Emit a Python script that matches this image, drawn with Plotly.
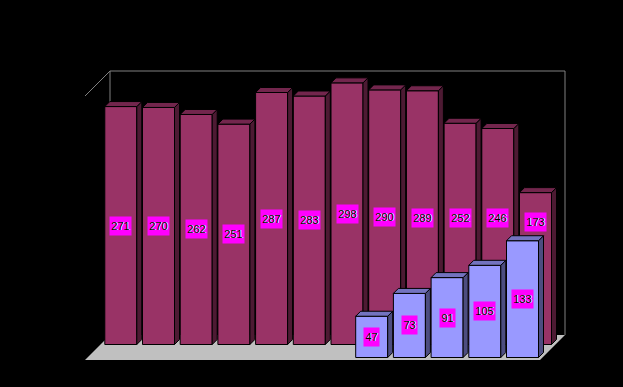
import plotly.graph_objects as go

back_categories = list(range(12))
back_values = [271, 270, 262, 251, 287, 283, 298, 290, 289, 252, 246, 173]
front_categories = [7, 8, 9, 10, 11]
front_values = [47, 73, 91, 105, 133]

W, H = 623, 387
PITCH = 37.7          # px per category
SCALE = 0.878         # px per value unit
X0_PX, Y0_PX = 120.8, 344.5
BAR_W = 32 / PITCH
DX, DY = 5 / PITCH, 5 / SCALE
FRONT_DX, FRONT_BASE = -13 / PITCH, -13 / SCALE

x_range = [-X0_PX / PITCH, (W - X0_PX) / PITCH]
y_range = [(Y0_PX - H) / SCALE, Y0_PX / SCALE]


def faces(xs, vals, base):
    side_x, side_y, top_x, top_y = [], [], [], []
    for x, v in zip(xs, vals):
        l, r, t = x - BAR_W / 2, x + BAR_W / 2, base + v
        side_x += [r, r + DX, r + DX, r, r, None]
        side_y += [base, base + DY, t + DY, t, base, None]
        top_x += [l, l + DX, r + DX, r, l, None]
        top_y += [t, t + DY, t + DY, t, t, None]
    return side_x, side_y, top_x, top_y


def add_series(fig, xs, vals, base, front, side, top, xa, ya):
    sx, sy, tx, ty = faces(xs, vals, base)
    fig.add_trace(go.Bar(x=xs, y=vals, base=[base] * len(vals), width=BAR_W,
                         marker=dict(color=front, line=dict(color="black", width=1)),
                         xaxis=xa, yaxis=ya, hoverinfo="skip"))
    for px, py, col in ((sx, sy, side), (tx, ty, top)):
        fig.add_trace(go.Scatter(x=px, y=py, mode="lines", fill="toself", fillcolor=col,
                                 line=dict(color="black", width=1),
                                 xaxis=xa, yaxis=ya, hoverinfo="skip"))


fig = go.Figure()
add_series(fig, back_categories, back_values, 0, "#993366", "#4D1A33", "#73264D", "x", "y")
front_x = [c + FRONT_DX for c in front_categories]
add_series(fig, front_x, front_values, FRONT_BASE, "#9999FF", "#4D4D80", "#7373BF", "x2", "y2")

# depth of the chart box, in category / value units
BOX_DX, BOX_DY = 25 / PITCH, 25 / SCALE
bl_x, br_x = (85 - X0_PX) / PITCH, (540 - X0_PX) / PITCH
fl_y = (Y0_PX - 360) / SCALE
top_y = (Y0_PX - 96) / SCALE
shapes = [
    dict(type="path", layer="below", line=dict(width=0), fillcolor="#C0C0C0",
         path=f"M{bl_x},{fl_y} L{br_x},{fl_y} L{br_x + BOX_DX},{fl_y + BOX_DY} L{bl_x + BOX_DX},{fl_y + BOX_DY} Z"),
    dict(type="path", layer="below", line=dict(width=1, color="#808080"),
         path=f"M{bl_x},{top_y} L{bl_x + BOX_DX},{top_y + BOX_DY} L{br_x + BOX_DX},{top_y + BOX_DY} "
              f"L{br_x + BOX_DX},{fl_y + BOX_DY} M{bl_x + BOX_DX},{top_y + BOX_DY} L{bl_x + BOX_DX},{fl_y + BOX_DY}"),
]
for s in shapes:
    s.update(xref="x", yref="y")

annotations = []
label_font = dict(family="Liberation Sans", size=11, color="black", shadow="1px 0px 0px #ffffff")


def label(x, y, text, xa, ya):
    annotations.append(dict(x=x, y=y, xref=xa, yref=ya, text=str(text), showarrow=False,
                            bgcolor="#FF00FF", borderpad=0, font=label_font,
                            width=21 if len(str(text)) > 2 else 15, height=18, align="center",
                            xanchor="center", yanchor="middle"))


# the three rightmost tall-bar labels sit higher than mid-height in the reference
raised_labels = {252: 144, 246: 144, 173: 140}
for c, v in zip(back_categories, back_values):
    label(c, raised_labels.get(v, v / 2), v, "x", "y")
for x, v in zip(front_x, front_values):
    label(x, FRONT_BASE + v / 2, v, "x2", "y2")

hidden = dict(visible=False, showgrid=False, zeroline=False)
fig.update_layout(
    width=W, height=H, margin=dict(l=0, r=0, t=0, b=0),
    paper_bgcolor="black", plot_bgcolor="black", showlegend=False, barmode="overlay",
    xaxis=dict(range=x_range, **hidden),
    yaxis=dict(range=y_range, **hidden),
    xaxis2=dict(range=x_range, overlaying="x", **hidden),
    yaxis2=dict(range=y_range, overlaying="y", **hidden),
    shapes=shapes, annotations=annotations,
)
fig.write_html("out.html", config={"displayModeBar": False},
               post_script="document.body.style.margin='0';document.body.style.background='black';document.body.style.overflow='hidden';")
